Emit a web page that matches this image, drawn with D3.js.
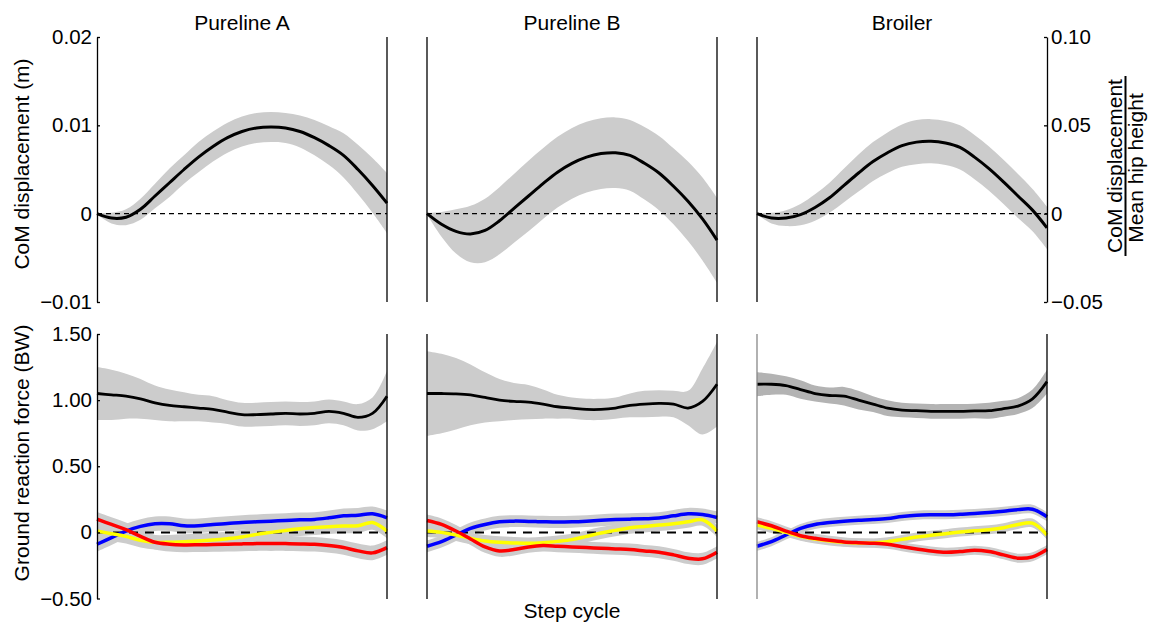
<!DOCTYPE html>
<html>
<head>
<meta charset="utf-8">
<script src="https://cdn.jsdelivr.net/npm/d3@7"></script>
<style>
  body { margin: 0; background: #fff; }
  svg { font-family: Arial, "Liberation Sans", sans-serif; }
</style>
</head>
<body>
<div id="chart"></div>
<script>
const width = 1151;
const height = 625;

// step cycle positions (%) of the sampled values
const steps = [0, 5, 10, 15, 20, 25, 30, 35, 40, 45, 50, 55, 60, 65, 70, 75, 80, 85, 90, 95, 100];
const panelNames = ["Pureline A", "Pureline B", "Broiler"];

// CoM displacement (m), mean and sd
const comMeanA = [0, -0.0005, -0.0004, 0.0005, 0.0020, 0.0035, 0.0050, 0.0064, 0.0076, 0.0086, 0.0093, 0.0097, 0.0098, 0.0097, 0.0093, 0.0086, 0.0077, 0.0066, 0.0050, 0.0032, 0.0012];
const comSdA = [0.0001, 0.0006, 0.0009, 0.0012, 0.0014, 0.0016, 0.0016, 0.0017, 0.0017, 0.0017, 0.0017, 0.0017, 0.0017, 0.0017, 0.0018, 0.0020, 0.0022, 0.0025, 0.0028, 0.0031, 0.0034];
const comMeanB = [0, -0.0012, -0.0020, -0.0023, -0.0019, -0.0008, 0.0006, 0.0020, 0.0034, 0.0047, 0.0057, 0.0064, 0.0068, 0.0069, 0.0066, 0.0057, 0.0046, 0.0031, 0.0014, -0.0006, -0.0030];
const comSdB = [0.0001, 0.0014, 0.0025, 0.0032, 0.0036, 0.0038, 0.0039, 0.0040, 0.0040, 0.0040, 0.0040, 0.0040, 0.0040, 0.0040, 0.0040, 0.0041, 0.0042, 0.0043, 0.0045, 0.0047, 0.0048];
const comMeanBr = [0, -0.0005, -0.0005, -0.0001, 0.0007, 0.0018, 0.0032, 0.0046, 0.0059, 0.0069, 0.0077, 0.0081, 0.0082, 0.0080, 0.0075, 0.0064, 0.0051, 0.0036, 0.0020, 0.0004, -0.0016];
const comSdBr = [0.0001, 0.0006, 0.0009, 0.0012, 0.0015, 0.0017, 0.0019, 0.0021, 0.0022, 0.0023, 0.0024, 0.0025, 0.0025, 0.0025, 0.0025, 0.0025, 0.0025, 0.0025, 0.0025, 0.0024, 0.0024];

// vertical ground reaction force (BW), mean and sd
const vertMeanA = [1.05, 1.04, 1.03, 1.01, 0.98, 0.96, 0.95, 0.94, 0.93, 0.91, 0.89, 0.89, 0.895, 0.90, 0.895, 0.90, 0.915, 0.90, 0.87, 0.90, 1.03];
const vertSdA = [0.20, 0.19, 0.17, 0.15, 0.13, 0.12, 0.11, 0.10, 0.10, 0.09, 0.09, 0.09, 0.09, 0.09, 0.09, 0.09, 0.09, 0.09, 0.10, 0.12, 0.19];
const vertMeanB = [1.05, 1.05, 1.048, 1.04, 1.02, 1.00, 0.99, 0.985, 0.97, 0.95, 0.94, 0.93, 0.93, 0.94, 0.96, 0.97, 0.975, 0.97, 0.94, 0.99, 1.12];
const vertSdB = [0.32, 0.30, 0.27, 0.23, 0.19, 0.16, 0.14, 0.13, 0.11, 0.09, 0.08, 0.08, 0.08, 0.08, 0.09, 0.10, 0.10, 0.10, 0.13, 0.25, 0.32];
const vertMeanBr = [1.12, 1.12, 1.11, 1.08, 1.05, 1.035, 1.03, 1.00, 0.97, 0.94, 0.925, 0.92, 0.915, 0.915, 0.915, 0.918, 0.92, 0.935, 0.955, 1.01, 1.14];
const vertSdBr = [0.09, 0.08, 0.07, 0.07, 0.06, 0.06, 0.07, 0.07, 0.06, 0.06, 0.055, 0.055, 0.055, 0.055, 0.055, 0.055, 0.06, 0.06, 0.06, 0.07, 0.09];

// other force components (BW)
const blueA = [-0.09, -0.04, 0.01, 0.045, 0.065, 0.065, 0.05, 0.05, 0.06, 0.067, 0.075, 0.08, 0.085, 0.09, 0.095, 0.098, 0.11, 0.125, 0.13, 0.14, 0.11];
const yellowA = [0.01, -0.01, -0.03, -0.06, -0.075, -0.075, -0.07, -0.065, -0.058, -0.048, -0.035, -0.015, 0.0, 0.015, 0.028, 0.036, 0.043, 0.048, 0.05, 0.075, 0.01];
const redA = [0.10, 0.06, 0.02, -0.03, -0.075, -0.09, -0.095, -0.094, -0.092, -0.09, -0.087, -0.085, -0.085, -0.085, -0.087, -0.09, -0.10, -0.115, -0.14, -0.155, -0.115];
const blueB = [-0.105, -0.07, -0.02, 0.03, 0.06, 0.08, 0.085, 0.083, 0.08, 0.078, 0.08, 0.085, 0.092, 0.097, 0.10, 0.103, 0.108, 0.125, 0.14, 0.135, 0.113];
const yellowB = [0.01, 0.0, -0.02, -0.045, -0.065, -0.075, -0.08, -0.083, -0.078, -0.068, -0.055, -0.03, -0.005, 0.015, 0.035, 0.045, 0.055, 0.065, 0.08, 0.095, 0.01];
const redB = [0.09, 0.06, 0.01, -0.05, -0.11, -0.14, -0.13, -0.11, -0.10, -0.105, -0.11, -0.115, -0.12, -0.125, -0.13, -0.14, -0.15, -0.17, -0.195, -0.20, -0.15];
const blueBr = [-0.105, -0.07, -0.02, 0.03, 0.06, 0.075, 0.085, 0.092, 0.097, 0.105, 0.12, 0.13, 0.133, 0.133, 0.137, 0.142, 0.15, 0.16, 0.172, 0.175, 0.118];
const yellowBr = [0.055, 0.03, 0.0, -0.03, -0.05, -0.065, -0.075, -0.08, -0.08, -0.07, -0.053, -0.035, -0.022, -0.01, 0.002, 0.012, 0.02, 0.035, 0.06, 0.07, -0.02];
const redBr = [0.08, 0.05, 0.01, -0.025, -0.045, -0.06, -0.072, -0.078, -0.082, -0.09, -0.108, -0.125, -0.14, -0.15, -0.145, -0.135, -0.145, -0.17, -0.195, -0.185, -0.13];
// sd band of the small components, per panel
const componentSd = [0.055, 0.045, 0.034];

const comTicks = [-0.01, 0, 0.01, 0.02];
const comRelTicks = [-0.05, 0, 0.05, 0.10];
const grfTicks = [-0.5, 0, 0.5, 1.0, 1.5];

const comMeans = [comMeanA, comMeanB, comMeanBr];
const comSds = [comSdA, comSdB, comSdBr];
const vertMeans = [vertMeanA, vertMeanB, vertMeanBr];
const vertSds = [vertSdA, vertSdB, vertSdBr];
const blues = [blueA, blueB, blueBr];
const yellows = [yellowA, yellowB, yellowBr];
const reds = [redA, redB, redBr];

const svg = d3.select("#chart").append("svg")
    .attr("width", width)
    .attr("height", height);

const panelLeft = [97, 427, 757];
const panelW = 290;
const topY = d3.scaleLinear().domain([-0.01, 0.02]).range([302, 37]);
const topYRel = d3.scaleLinear().domain([-0.05, 0.10]).range([302, 37]);
const botY = d3.scaleLinear().domain([-0.5, 1.5]).range([598.5, 334]);

const fmt = d => d === 0 ? "0" : d3.format(".2f")(d).replace("-", "\u2212");

const bandGrey = "#cccccc";

panelNames.forEach((name, p) => {
    const x = d3.scaleLinear().domain([0, 100]).range([panelLeft[p], panelLeft[p] + panelW]);
    const g = svg.append("g");

    const band = (mean, sd, y) => d3.area()
        .x((d, i) => x(steps[i]))
        .y0((d, i) => y(mean[i] - sd[i]))
        .y1((d, i) => y(mean[i] + sd[i]))
        .curve(d3.curveCatmullRom)(steps);
    const line = (mean, y) => d3.line()
        .x((d, i) => x(steps[i]))
        .y((d, i) => y(mean[i]))
        .curve(d3.curveCatmullRom)(steps);

    // title
    g.append("text")
        .attr("x", panelLeft[p] + panelW / 2)
        .attr("y", 30)
        .attr("text-anchor", "middle")
        .attr("font-size", 21)
        .text(name);

    // ---- top: CoM displacement ----
    g.append("path").attr("d", band(comMeans[p], comSds[p], topY)).attr("fill", bandGrey);
    g.append("line")
        .attr("x1", x(0)).attr("x2", x(100))
        .attr("y1", topY(0)).attr("y2", topY(0))
        .attr("stroke", "#000").attr("stroke-width", 1.2).attr("stroke-dasharray", "5,4");
    g.append("path").attr("d", line(comMeans[p], topY))
        .attr("fill", "none").attr("stroke", "#000").attr("stroke-width", 3);

    // ---- bottom: ground reaction force ----
    const smallSd = steps.map(() => componentSd[p]);
    g.append("path").attr("d", band(vertMeans[p], vertSds[p], botY))
        .attr("fill", p === 2 ? "#b3b3b3" : bandGrey);
    [blues[p], yellows[p], reds[p]].forEach(s => {
        g.append("path").attr("d", band(s, smallSd, botY)).attr("fill", bandGrey);
    });
    g.append("line")
        .attr("x1", x(0)).attr("x2", x(100))
        .attr("y1", botY(0)).attr("y2", botY(0))
        .attr("stroke", "#000").attr("stroke-width", 2).attr("stroke-dasharray", "9,7");
    g.append("path").attr("d", line(vertMeans[p], botY))
        .attr("fill", "none").attr("stroke", "#000").attr("stroke-width", 2.8);
    [[blues[p], "#0000ff"], [yellows[p], "#ffff00"], [reds[p], "#ff0000"]].forEach(([s, c]) => {
        g.append("path").attr("d", line(s, botY))
            .attr("fill", "none").attr("stroke", c).attr("stroke-width", 3.5);
    });

    // frame lines
    const vline = (xx, y1, y2, col) => g.append("line")
        .attr("x1", xx).attr("x2", xx).attr("y1", y1).attr("y2", y2)
        .attr("stroke", col || "#000").attr("stroke-width", 1.3);
    if (p > 0) {
        vline(x(0), 37, 302);
        vline(x(0), 334, 599, p === 2 ? "#888" : "#000");
    }
    if (p < 2) vline(x(100), 37, 302);
    vline(x(100), 334, 599);
});

// axes
const styleAxis = sel => {
    sel.selectAll("text").attr("font-size", 20.5).attr("fill", "#000")
        .attr("font-family", "Arial, 'Liberation Sans', sans-serif");
    sel.selectAll("line, path").attr("stroke", "#000").attr("stroke-width", 1.3);
};
svg.append("g").attr("transform", `translate(${panelLeft[0]},0)`)
    .call(d3.axisLeft(topY).tickValues(comTicks).tickFormat(fmt).tickSize(-3).tickSizeOuter(0).tickPadding(5))
    .call(styleAxis);
svg.append("g").attr("transform", `translate(${panelLeft[2] + panelW},0)`)
    .call(d3.axisRight(topYRel).tickValues(comRelTicks).tickFormat(fmt).tickSize(-3).tickSizeOuter(0).tickPadding(4))
    .call(styleAxis);
svg.append("g").attr("transform", `translate(${panelLeft[0]},0)`)
    .call(d3.axisLeft(botY).tickValues(grfTicks).tickFormat(fmt).tickSize(-3).tickSizeOuter(0).tickPadding(5))
    .call(styleAxis);

// axis labels
svg.append("text")
    .attr("transform", "translate(29,164) rotate(-90)")
    .attr("text-anchor", "middle").attr("font-size", 21)
    .text("CoM displacement (m)");
svg.append("text")
    .attr("transform", "translate(29,453) rotate(-90)")
    .attr("text-anchor", "middle").attr("font-size", 21)
    .text("Ground reaction force (BW)");
svg.append("text")
    .attr("x", 572).attr("y", 618)
    .attr("text-anchor", "middle").attr("font-size", 21)
    .text("Step cycle");

// right label as a fraction
svg.append("text")
    .attr("transform", "translate(1122,166) rotate(-90)")
    .attr("text-anchor", "middle").attr("font-size", 21)
    .text("CoM displacement");
svg.append("line")
    .attr("x1", 1125.5).attr("x2", 1125.5).attr("y1", 76).attr("y2", 256)
    .attr("stroke", "#000").attr("stroke-width", 2);
svg.append("text")
    .attr("transform", "translate(1143,168) rotate(-90)")
    .attr("text-anchor", "middle").attr("font-size", 21)
    .text("Mean hip height");
</script>
</body>
</html>
